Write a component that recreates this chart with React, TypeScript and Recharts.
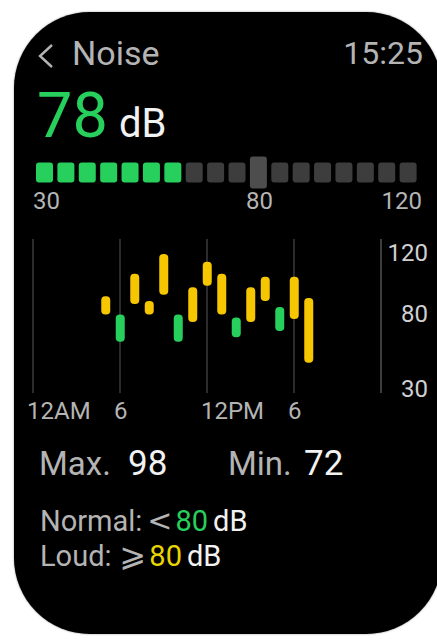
import { Bar, BarChart, CartesianGrid, Cell, XAxis, YAxis } from "recharts";

// hourly noise ranges (dB), one bar per hour
const hours = [5, 6, 7, 8, 9, 10, 11, 12, 13, 14, 15, 16, 17, 18, 19];
const hourLows = [79, 61, 86, 79, 92, 61, 74, 98, 79, 64, 74, 88, 68, 76, 47];
const hourHighs = [91, 79, 106, 88, 119, 79, 97, 114, 106, 77, 97, 104, 84, 104, 90];
const hourLevels = [
  "loud", "normal", "loud", "loud", "loud", "normal", "loud", "loud",
  "loud", "normal", "loud", "loud", "normal", "loud", "loud",
];

const xTicks = [0, 6, 12, 18];
const xTickLabels = ["12AM", "6", "12PM", "6"];
const yTicks = [30, 80, 120];

// level meter segments
const meterLevels = [30, 35, 40, 45, 50, 55, 60, 65, 70, 75, 80, 85, 90, 95, 100, 105, 110, 115];
const meterLit = [true, true, true, true, true, true, true, false, false, false, false, false, false, false, false, false, false, false];
const meterHeights = [1, 1, 1, 1, 1, 1, 1, 1, 1, 1, 1.6, 1, 1, 1, 1, 1, 1, 1];
const meterLabels = ["30", "80", "120"];

const GREEN = "#27cf5c";
const YELLOW = "#f6c700";
const GRAY_TEXT = "#b4b4b4";
const WHITE = "#f2f2f2";

const hourData = hours.map((hour, i) => ({
  hour,
  range: [hourLows[i], hourHighs[i]],
  level: hourLevels[i],
}));

const meterData = meterLevels.map((level, i) => ({
  level,
  span: [-meterHeights[i], meterHeights[i]],
  lit: meterLit[i],
}));

function Txt(props: { left?: number; right?: number; top: number; size: number; color: string; children: any }) {
  return (
    <div
      style={{
        position: "absolute",
        left: props.left,
        right: props.right,
        top: props.top,
        fontSize: props.size,
        lineHeight: 1,
        color: props.color,
        whiteSpace: "nowrap",
      }}
    >
      {props.children}
    </div>
  );
}

export default function App() {
  return (
    <div
      style={{
        position: "absolute",
        left: 0,
        top: 0,
        width: 437,
        height: 644,
        overflow: "hidden",
        background: "#fff",
        fontFamily: "Roboto, 'DejaVu Sans', sans-serif",
      }}
    >
      <div
        style={{
          position: "absolute",
          left: 14,
          top: 12,
          width: 428,
          height: 622,
          borderRadius: 76,
          background: "#000",
          boxShadow: "0 0 2px #888",
        }}
      />

      {/* header */}
      <svg style={{ position: "absolute", left: 36, top: 43 }} width={20} height={26}>
        <polyline points="16,2 4,13 16,24" fill="none" stroke={GRAY_TEXT} strokeWidth={2.4} />
      </svg>
      <Txt left={72} top={36} size={34} color={GRAY_TEXT}>Noise</Txt>
      <Txt right={14} top={37} size={32} color={GRAY_TEXT}>15:25</Txt>

      <Txt left={37} top={84} size={63} color={GREEN}>78</Txt>
      <Txt left={119} top={104} size={40} color={WHITE}>dB</Txt>

      {/* level meter */}
      <div style={{ position: "absolute", left: 0, top: 150 }}>
        <BarChart width={437} height={45} data={meterData} margin={{ top: 0, right: 18, left: 34, bottom: 0 }}>
          <XAxis dataKey="level" type="category" hide />
          <YAxis domain={[-2.25, 2.25]} hide />
          <Bar dataKey="span" barSize={17} radius={3} isAnimationActive={false}>
            {meterData.map((d, i) => (
              <Cell key={i} fill={d.lit ? GREEN : meterHeights[i] > 1 ? "#4d4d4d" : "#3d3d3d"} />
            ))}
          </Bar>
        </BarChart>
      </div>
      <Txt left={33} top={189} size={24} color={GRAY_TEXT}>{meterLabels[0]}</Txt>
      <Txt left={246} top={189} size={24} color={GRAY_TEXT}>{meterLabels[1]}</Txt>
      <Txt right={15} top={189} size={24} color={GRAY_TEXT}>{meterLabels[2]}</Txt>

      {/* hourly chart */}
      <div style={{ position: "absolute", left: 0, top: 230 }}>
        <BarChart width={437} height={200} data={hourData} margin={{ top: 9, right: 6, left: 33, bottom: 7 }}>
          <CartesianGrid horizontal={false} stroke="#3a3a3a" strokeWidth={1.5} />
          <XAxis
            dataKey="hour"
            type="number"
            domain={[0, 24]}
            ticks={xTicks}
            interval={0}
            tickFormatter={(v) => xTickLabels[xTicks.indexOf(v)]}
            axisLine={false}
            tickLine={false}
            height={30}
            tickMargin={3}
            tick={{ fill: GRAY_TEXT, fontSize: 24, textAnchor: "start", dx: -6 }}
          />
          <YAxis
            orientation="right"
            domain={[27, 129]}
            ticks={yTicks}
            interval={0}
            width={50}
            axisLine={{ stroke: "#444", strokeWidth: 1.5 }}
            tickLine={false}
            tickMargin={41}
            tick={{ fill: "#d0d0d0", fontSize: 24, textAnchor: "end" }}
          />
          <Bar dataKey="range" barSize={9} radius={4} isAnimationActive={false}>
            {hourData.map((d, i) => (
              <Cell key={i} fill={d.level === "loud" ? YELLOW : GREEN} />
            ))}
          </Bar>
        </BarChart>
      </div>

      {/* stats */}
      <Txt left={39} top={447} size={33} color={GRAY_TEXT}>Max.</Txt>
      <Txt left={128} top={446} size={35} color={WHITE}>98</Txt>
      <Txt left={228} top={447} size={33} color={GRAY_TEXT}>Min.</Txt>
      <Txt left={304} top={446} size={35} color={WHITE}>72</Txt>

      <Txt left={40} top={507} size={29} color={GRAY_TEXT}>
        Normal:
        <span style={{ fontFamily: "'DejaVu Sans'", fontSize: 30, lineHeight: 0, marginLeft: 5 }}>{"<"}</span>
        <span style={{ color: GREEN, marginLeft: 3 }}>80</span>
        <span style={{ color: WHITE, marginLeft: 5 }}>dB</span>
      </Txt>
      <Txt left={40} top={542} size={29} color={GRAY_TEXT}>
        Loud:<span style={{ fontSize: 32, lineHeight: 0, marginLeft: 8 }}>⩾</span>
        <span style={{ color: "#e9d600", marginLeft: 3 }}>80</span>
        <span style={{ color: WHITE, marginLeft: 5 }}>dB</span>
      </Txt>
    </div>
  );
}
